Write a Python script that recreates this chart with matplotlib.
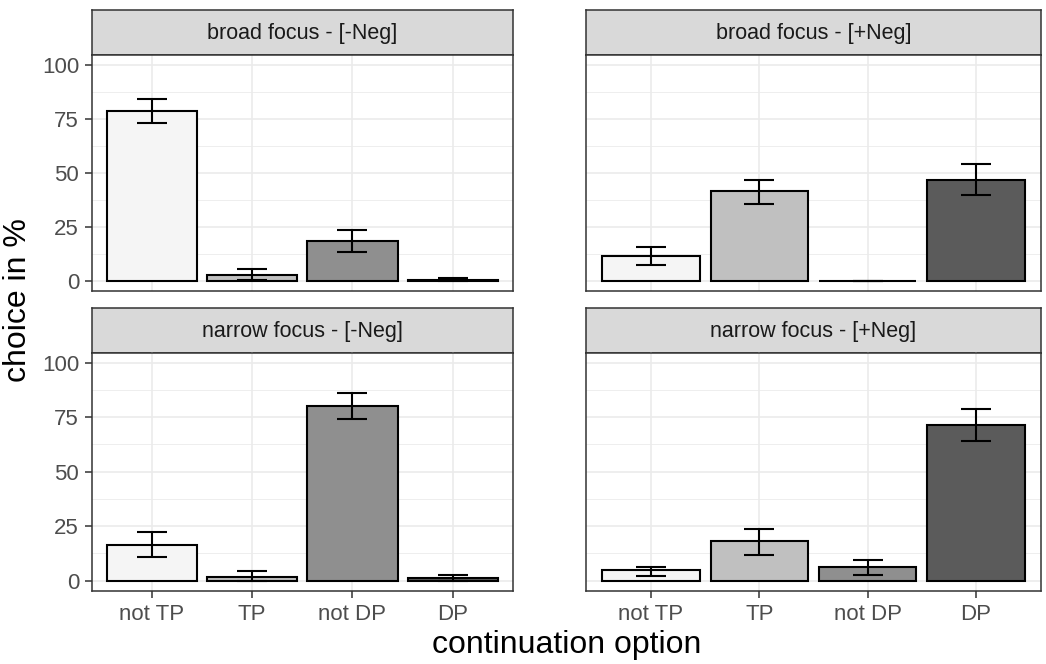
import numpy as np
import matplotlib
matplotlib.use("Agg")
import matplotlib.pyplot as plt

plt.rcParams.update({
    "font.family": ["Liberation Sans", "DejaVu Sans"],
})

# ── data ─────────────────────────────────────────────
OPTIONS = ["not TP", "TP", "not DP", "DP"]
FILLS = ["#F5F5F5", "#C0C0C0", "#8F8F8F", "#5B5B5B"]

PANELS = ["broad focus - [-Neg]", "broad focus - [+Neg]",
          "narrow focus - [-Neg]", "narrow focus - [+Neg]"]

# mean choice (%) per panel
broad_neg_minus = [78.5, 2.5, 18.5, 0.5]
broad_neg_plus = [11.6, 41.4, 0.0, 46.8]
narrow_neg_minus = [16.5, 1.7, 80.3, 1.0]
narrow_neg_plus = [4.7, 18.3, 6.2, 71.3]

# error bar lower / upper bounds
broad_neg_minus_lo = [73.0, 0.5, 13.2, 0.0]
broad_neg_minus_hi = [84.0, 5.5, 23.6, 1.0]
broad_neg_plus_lo = [7.1, 35.5, 0.0, 39.7]
broad_neg_plus_hi = [15.4, 46.4, 0.0, 54.0]
narrow_neg_minus_lo = [11.0, 0.0, 74.1, 0.0]
narrow_neg_minus_hi = [22.5, 4.3, 86.3, 2.5]
narrow_neg_plus_lo = [2.3, 11.8, 2.5, 63.9]
narrow_neg_plus_hi = [6.3, 23.7, 9.4, 78.6]

VALUES = [broad_neg_minus, broad_neg_plus, narrow_neg_minus, narrow_neg_plus]
LOWER = [broad_neg_minus_lo, broad_neg_plus_lo, narrow_neg_minus_lo, narrow_neg_plus_lo]
UPPER = [broad_neg_minus_hi, broad_neg_plus_hi, narrow_neg_minus_hi, narrow_neg_plus_hi]

YTICKS = [0, 25, 50, 75, 100]

# ── layout (pixel boxes: left, right, strip top, strip bottom, plot bottom) ──
W, H = 1046, 664
COLS = [(91.5, 513), (586, 1041)]
ROWS = [(9.5, 54.5, 291), (307.5, 352.5, 591)]


def rect(x0, x1, y0, y1):
    return [x0 / W, 1 - y1 / H, (x1 - x0) / W, (y1 - y0) / H]


fig = plt.figure(figsize=(W / 100, H / 100), dpi=100)
fig.patch.set_facecolor("white")

x = np.arange(1, len(OPTIONS) + 1)

for i, title in enumerate(PANELS):
    r, c = divmod(i, 2)
    x0, x1 = COLS[c]
    s0, s1, pb = ROWS[r]

    # strip
    sax = fig.add_axes(rect(x0, x1, s0, s1))
    sax.set_facecolor("#D9D9D9")
    sax.set_xticks([])
    sax.set_yticks([])
    for sp in sax.spines.values():
        sp.set_color("#333333")
        sp.set_linewidth(1.1)
    sax.text(0.5, 0.47, title, ha="center", va="center",
             fontsize=15.5, color="#1A1A1A", transform=sax.transAxes)

    ax = fig.add_axes(rect(x0, x1, s1, pb))
    ax.set_facecolor("white")
    ax.set_xlim(0.4, 4.6)
    ax.set_ylim(-4.8, 104.7)

    # grid
    for yv in np.arange(12.5, 100, 25):
        ax.axhline(yv, color="#EBEBEB", lw=0.6, zorder=0)
    for yv in YTICKS:
        ax.axhline(yv, color="#EBEBEB", lw=1.2, zorder=0)
    for xv in x:
        ax.axvline(xv, color="#EBEBEB", lw=1.2, zorder=0)

    ax.bar(x, VALUES[i], width=0.9, color=FILLS, edgecolor="black",
           linewidth=1.5, zorder=2)
    vals = np.array(VALUES[i])
    lo = vals - np.array(LOWER[i])
    hi = np.array(UPPER[i]) - vals
    ax.errorbar(x, vals, yerr=[lo, hi], fmt="none", ecolor="black",
                elinewidth=1.5, capsize=11, capthick=1.5, zorder=3)

    for sp in ax.spines.values():
        sp.set_color("#333333")
        sp.set_linewidth(1.1)

    ax.set_yticks(YTICKS)
    ax.set_xticks(x)
    ax.tick_params(axis="both", colors="#333333", length=5, width=1.1,
                   labelsize=16, labelcolor="#4D4D4D", pad=4)
    if c == 0:
        ax.set_yticklabels([str(v) for v in YTICKS])
    else:
        ax.tick_params(axis="y", length=0)
        ax.set_yticklabels([])
    if r == 1:
        ax.set_xticklabels(OPTIONS)
    else:
        ax.tick_params(axis="x", length=0)
        ax.set_xticklabels([])

fig.text(18 / W, 1 - 300 / H, "choice in %", rotation=90, ha="center",
         va="center", fontsize=23, color="black")
fig.text(((91.5 + 1041) / 2) / W, 1 - 645 / H, "continuation option",
         ha="center", va="center", fontsize=23, color="black")

fig.savefig("out.png", dpi=100, facecolor="white")
